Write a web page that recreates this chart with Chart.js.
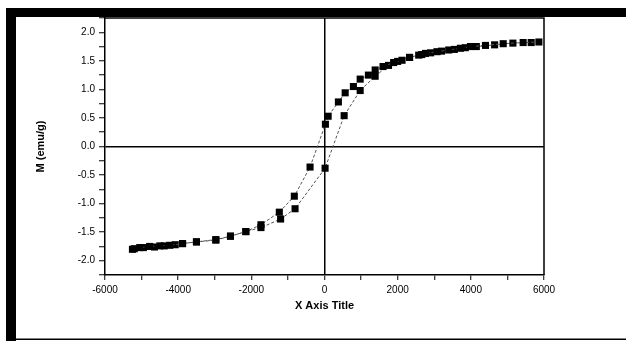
<!DOCTYPE html>
<html>
<head>
<meta charset="utf-8">
<script src="https://cdn.jsdelivr.net/npm/chart.js@4/dist/chart.umd.min.js"></script>
<style>
  html, body { margin: 0; padding: 0; background: #fff; }
  #wrap { position: relative; width: 626px; height: 341px; }
</style>
</head>
<body>
<div id="wrap"><canvas id="c" width="626" height="341"></canvas></div>
<script>
// Descending branch (from high positive field to negative field)
const descField = [5860, 5430, 4885, 4400, 3990, 3715, 3395, 3075, 2760, 2575, 2325, 2120, 1890, 1600, 1385, 1200, 975, 790, 565, 380, 100, 25, -395, -825, -1235, -1737, -2150, -2570, -2970, -3500, -3880, -4230, -4500, -4780, -5050, -5250];
const descM     = [1.83, 1.82, 1.80, 1.77, 1.75, 1.72, 1.69, 1.66, 1.63, 1.60, 1.56, 1.51, 1.47, 1.40, 1.34, 1.25, 1.18, 1.05, 0.94, 0.78, 0.53, 0.39, -0.36, -0.87, -1.15, -1.37, -1.49, -1.57, -1.64, -1.67, -1.70, -1.73, -1.74, -1.75, -1.77, -1.80];
// Ascending branch (from negative field back to positive field)
const ascField = [-5200, -4950, -4650, -4380, -4080, -3880, -3500, -2970, -2570, -2150, -1737, -1200, -805, 16, 537, 975, 1385, 1750, 2000, 2325, 2660, 2900, 3200, 3550, 3850, 4150, 4650, 5150, 5650];
const ascM     = [-1.79, -1.77, -1.76, -1.74, -1.72, -1.70, -1.67, -1.63, -1.57, -1.49, -1.42, -1.27, -1.09, -0.38, 0.54, 0.98, 1.23, 1.42, 1.49, 1.56, 1.61, 1.64, 1.67, 1.70, 1.73, 1.75, 1.78, 1.81, 1.82];

const xTickLabels = [-6000, -4000, -2000, 0, 2000, 4000, 6000];
const yTickLabels = [-2.0, -1.5, -1.0, -0.5, 0.0, 0.5, 1.0, 1.5, 2.0];

const toPts = (xs, ys) => xs.map((x, i) => ({x: x, y: ys[i]}));

const framePlugin = {
  id: 'frame',
  beforeDraw(chart) {
    const ctx = chart.ctx;
    ctx.save();
    ctx.fillStyle = '#fff';
    ctx.fillRect(0, 0, chart.width, chart.height);
    ctx.restore();
  },
  afterDraw(chart) {
    const ctx = chart.ctx;
    const a = chart.chartArea;
    ctx.save();
    ctx.strokeStyle = '#000';
    ctx.lineWidth = 1.5;
    ctx.beginPath();
    ctx.moveTo(a.left, a.top);
    ctx.lineTo(a.right, a.top);
    ctx.lineTo(a.right, a.bottom);
    ctx.stroke();
    ctx.fillStyle = '#000';
    ctx.fillRect(6, 8, 620, 9);
    ctx.fillRect(6, 8, 10, 333);
    ctx.fillRect(6, 338.5, 620, 1.5);
    ctx.restore();
  }
};

const tickFont = {family: 'Liberation Sans, Arial, sans-serif', size: 10};
const titleFont = {family: 'Liberation Sans, Arial, sans-serif', size: 11, weight: 'bold'};

const ds = pts => ({
  data: pts,
  showLine: true,
  borderColor: '#555',
  borderWidth: 1,
  borderDash: [3, 2],
  pointStyle: 'rect',
  pointRadius: 5,
  pointBackgroundColor: '#000',
  pointBorderColor: '#000',
  pointBorderWidth: 0
});

new Chart(document.getElementById('c'), {
  type: 'scatter',
  data: {
    datasets: [ds(toPts(descField, descM)), ds(toPts(ascField, ascM))]
  },
  options: {
    responsive: false,
    animation: false,
    devicePixelRatio: 1,
    layout: {padding: {top: 18, right: 82, left: 0, bottom: 0}},
    plugins: {legend: {display: false}, tooltip: {enabled: false}},
    scales: {
      x: {
        type: 'linear',
        min: -6000, max: 6000,
        afterFit: s => { s.height = 66; },
        afterBuildTicks: s => {
          const t = [];
          for (let v = -6000; v <= 6000; v += 1000) t.push({value: v});
          s.ticks = t;
        },
        ticks: {
          font: tickFont, color: '#000', padding: 4, maxRotation: 0, autoSkip: false,
          callback: v => xTickLabels.includes(v) ? String(v) : ''
        },
        grid: {
          drawOnChartArea: true,
          color: c => (c.tick && c.tick.value === 0) ? '#000' : 'rgba(0,0,0,0)',
          lineWidth: 1.5,
          tickColor: '#000',
          tickLength: 5,
          tickWidth: 1
        },
        border: {display: true, color: '#000', width: 1.5},
        title: {display: true, text: 'X Axis Title', font: titleFont, color: '#000', padding: {top: 0, bottom: 28}}
      },
      y: {
        type: 'linear',
        min: -2.25, max: 2.25,
        afterFit: s => { s.width = 105; },
        afterBuildTicks: s => {
          const t = [];
          for (let k = -9; k <= 9; k++) t.push({value: k * 0.25});
          s.ticks = t;
        },
        ticks: {
          font: tickFont, color: '#000', padding: 4, autoSkip: false,
          callback: v => {
            const m = yTickLabels.find(l => Math.abs(l - v) < 1e-9);
            return m === undefined ? '' : m.toFixed(1);
          }
        },
        grid: {
          drawOnChartArea: true,
          color: c => (c.tick && Math.abs(c.tick.value) < 1e-9) ? '#000' : 'rgba(0,0,0,0)',
          lineWidth: 1.5,
          tickColor: '#000',
          tickLength: 6,
          tickWidth: 1
        },
        border: {display: true, color: '#000', width: 1.5},
        title: {display: true, text: 'M (emu/g)', font: titleFont, color: '#000', padding: {top: 34, bottom: 0}}
      }
    }
  },
  plugins: [framePlugin]
});
</script>
</body>
</html>
